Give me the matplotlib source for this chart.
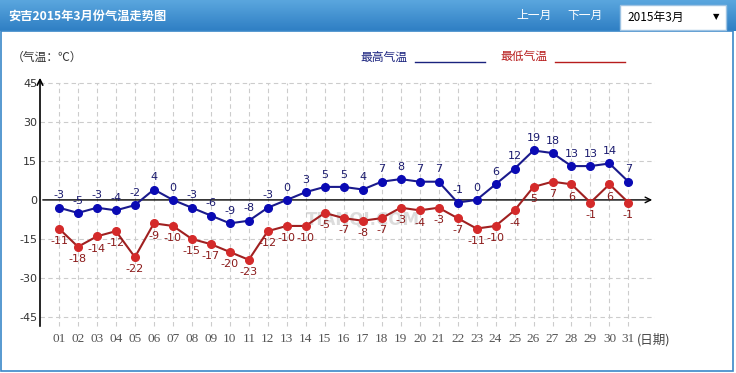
## 安吉 2015年3月 气温走势图
import numpy as np
import matplotlib
matplotlib.use("Agg")
from matplotlib import pyplot as plt
from matplotlib.patches import Rectangle
from matplotlib.colors import LinearSegmentedColormap

plt.rcParams['font.family'] = ['Noto Sans CJK SC', 'DejaVu Sans']

# 数据
days = ['01', '02', '03', '04', '05', '06', '07', '08', '09', '10',
        '11', '12', '13', '14', '15', '16', '17', '18', '19', '20',
        '21', '22', '23', '24', '25', '26', '27', '28', '29', '30', '31']
high = [-3, -5, -3, -4, -2, 4, 0, -3, -6, -9, -8, -3, 0, 3, 5, 5, 4, 7, 8, 7,
        7, -1, 0, 6, 12, 19, 18, 13, 13, 14, 7]
low = [-11, -18, -14, -12, -22, -9, -10, -15, -17, -20, -23, -12, -10, -10, -5,
       -7, -8, -7, -3, -4, -3, -7, -11, -10, -4, 5, 7, 6, -1, 6, -1]
yticks = [45, 30, 15, 0, -15, -30, -45]

W, H = 736, 373
fig = plt.figure(figsize=(W / 100, H / 100), dpi=100)

# 页眉 (蓝色渐变)
bg = fig.add_axes([0, 0, 1, 1])
bg.set_xlim(0, W)
bg.set_ylim(H, 0)
bg.axis('off')
grad = np.linspace(0, 1, 32).reshape(-1, 1)
cmap = LinearSegmentedColormap.from_list('hdr', ['#5aa6de', '#2f7fc4'])
bg.imshow(grad, cmap=cmap, extent=[0, W, 31, 0], aspect='auto')
bg.add_patch(Rectangle((0.5, 31), W - 3.5, H - 33, fill=False, ec='#3a87c8', lw=1.2))
bg.text(8, 16, '安吉2015年3月份气温走势图', color='white', fontsize=8.8,
        fontweight='bold', va='center')
bg.text(516, 15, '上一月', color='white', fontsize=8.5, va='center')
bg.text(567, 15, '下一月', color='white', fontsize=8.5, va='center')
bg.add_patch(Rectangle((620, 5), 106, 25, fc='white', ec='#9ec3e3', lw=1))
bg.text(627, 17, '2015年3月', color='black', fontsize=8.5, va='center')
bg.text(713, 17, '▼', color='black', fontsize=6, va='center',
        family=['DejaVu Sans'])

# 图例与单位
bg.text(12, 57, '（气温：℃）', color='#333333', fontsize=8.5, va='center')
bg.text(360, 57, '最高气温', color='#1a237e', fontsize=8.5, va='center')
bg.plot([415, 485], [62, 62], color='#1a237e', lw=1)
bg.text(500, 57, '最低气温', color='#b71c1c', fontsize=8.5, va='center')
bg.plot([555, 625], [62, 62], color='#b71c1c', lw=1)

# 主图
ax = fig.add_axes([40 / W, 44 / H, 615 / W, 254 / H])
x = np.arange(1, len(days) + 1)
ax.set_xlim(0, 32.4)
ax.set_ylim(-49.6, 48)
for s in ax.spines.values():
    s.set_visible(False)

for yv in yticks:
    if yv != 0:
        ax.axhline(yv, color='#cccccc', lw=0.8, ls=(0, (4, 3)), zorder=0)
for xv in x:
    ax.plot([xv, xv], [-48.5, 45], color='#cccccc', lw=0.8, ls=(0, (4, 3)), zorder=0)

ax.annotate('', xy=(0, 48), xytext=(0, -49.6),
            arrowprops=dict(arrowstyle='->', lw=1.2, color='black'))
ax.annotate('', xy=(32.4, 0), xytext=(0, 0),
            arrowprops=dict(arrowstyle='->', lw=1, color='black'))

ax.set_yticks(yticks)
ax.set_yticklabels([str(v) for v in yticks], fontsize=8, color='#333333',
                   family=['DejaVu Sans'])
ax.set_xticks(x)
ax.set_xticklabels(days, fontsize=9.5, color='#555555', family=['Liberation Serif'])
ax.tick_params(length=0, pad=3)
ax.tick_params(axis='y', pad=2)
ax.text(31.45, -53.6, '(日期)', fontsize=9, color='#444444', va='center')

# 水印
ax.text(17, -7.5, 'TIANQI.COM', fontsize=12, fontweight='bold', color='#bbbbbb',
        alpha=0.5, ha='center', va='center', family=['DejaVu Sans'], zorder=1)

ax.plot(x, high, color='#1a1a8c', lw=1.5, marker='o', ms=5.5,
        mfc='#0a0ab4', mec='#0a0ab4', zorder=3)
ax.plot(x, low, color='#a02020', lw=1.5, marker='o', ms=5.5,
        mfc='#d42a2a', mec='#d42a2a', zorder=3)

for xi, h, l in zip(x, high, low):
    ax.text(xi, h + 2.8, str(h), color='#1a1a6e', fontsize=8, ha='center',
            va='bottom', family=['DejaVu Sans'], zorder=4)
    ax.text(xi, l - 2.8, str(l), color='#8b1a1a', fontsize=8, ha='center',
            va='top', family=['DejaVu Sans'], zorder=4)

plt.savefig('out.png', dpi=100)
